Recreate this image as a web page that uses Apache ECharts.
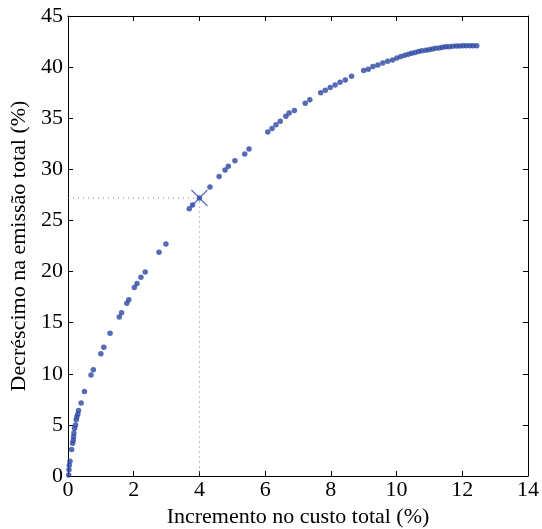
<!DOCTYPE html>
<html><head><meta charset="utf-8">
<script src="https://cdn.jsdelivr.net/npm/echarts@6/dist/echarts.min.js"></script>
<style>html,body{margin:0;padding:0;background:#fff}#c{width:542px;height:529px}</style>
</head><body><div id="c"></div>
<script>
const costIncrease = [0.02,0.03,0.04,0.06,0.11,0.14,0.16,0.17,0.18,0.2,0.23,0.25,0.27,0.3,0.32,0.4,0.5,0.7,0.77,1.0,1.09,1.28,1.56,1.63,1.79,1.85,2.02,2.1,2.22,2.35,2.77,2.98,3.69,3.79,4.0,4.32,4.6,4.78,4.88,5.08,5.38,5.51,6.08,6.21,6.33,6.46,6.63,6.73,6.89,7.22,7.36,7.69,7.83,7.98,8.13,8.28,8.44,8.63,9.0,9.14,9.28,9.43,9.58,9.73,9.88,10.01,10.13,10.25,10.36,10.46,10.56,10.67,10.77,10.89,10.99,11.09,11.19,11.3,11.4,11.5,11.6,11.71,11.82,11.92,12.02,12.12,12.23,12.33,12.44];
const emissionDecrease = [0.1,0.6,1.05,1.45,2.6,3.2,3.5,3.85,4.2,4.67,5.0,5.5,5.8,6.07,6.4,7.15,8.27,9.87,10.4,11.95,12.6,13.96,15.56,15.98,16.9,17.25,18.43,18.82,19.44,19.96,21.9,22.7,26.15,26.5,27.2,28.28,29.3,29.94,30.3,30.85,31.5,32.0,33.66,34.0,34.37,34.7,35.2,35.5,35.75,36.47,36.8,37.48,37.74,38.0,38.26,38.52,38.75,39.1,39.66,39.8,40.05,40.2,40.4,40.57,40.7,40.9,41.03,41.16,41.26,41.36,41.42,41.52,41.59,41.65,41.71,41.78,41.85,41.88,41.95,41.98,42.0,42.04,42.07,42.07,42.1,42.1,42.1,42.1,42.1];
const chosenPoint = [4.0, 27.2];
const xTicks = [0,2,4,6,8,10,12,14];
const yTicks = [0,5,10,15,20,25,30,35,40,45];

const pts = costIncrease.map((x,i)=>[x, emissionDecrease[i]]);
const guide = [[0, chosenPoint[1]], chosenPoint, [chosenPoint[0], 0]];
const font = 'Liberation Serif';
const axisCommon = () => ({
  axisLine:{show:true,onZero:false,lineStyle:{color:'#000',width:1}},
  axisTick:{show:true,inside:true,length:5,lineStyle:{color:'#000'}},
  splitLine:{show:false}
});
const chart = echarts.init(document.getElementById('c'));
chart.setOption({
  animation:false,
  grid:{left:68,top:16,right:14,bottom:53,show:false,containLabel:false,outerBoundsMode:'none'},
  xAxis:[
    Object.assign({type:'value',min:xTicks[0],max:xTicks[xTicks.length-1],interval:2,position:'bottom',
      name:'Incremento no custo total (%)',nameLocation:'middle',nameGap:29,
      nameTextStyle:{fontFamily:font,fontSize:22,color:'#000'},
      axisLabel:{fontFamily:font,fontSize:22,color:'#000',margin:3}},axisCommon()),
    Object.assign({type:'value',min:0,max:14,interval:2,position:'top',axisLabel:{show:false}},axisCommon())
  ],
  yAxis:[
    Object.assign({type:'value',min:yTicks[0],max:yTicks[yTicks.length-1],interval:5,position:'left',
      name:'Decréscimo na emissão total (%)',nameLocation:'middle',nameGap:35,
      nameTextStyle:{fontFamily:font,fontSize:22,color:'#000'},
      axisLabel:{fontFamily:font,fontSize:22,color:'#000',margin:5}},axisCommon()),
    Object.assign({type:'value',min:0,max:45,interval:5,position:'right',axisLabel:{show:false}},axisCommon())
  ],
  series:[
    {type:'line',data:guide,symbol:'none',lineStyle:{type:[1,4],color:'#7078b0',width:1},z:1},
    {type:'scatter',data:pts,symbol:'circle',symbolSize:5.5,itemStyle:{color:'#2a46a2'},z:3},
    {type:'scatter',data:[chosenPoint],symbol:'path://M0,0.6L0.6,0L10,9.4L9.4,10Z M9.4,0L10,0.6L0.6,10L0,9.4Z',
      symbolSize:17,itemStyle:{color:'#3a58ac'},z:4}
  ]
});
</script></body></html>
